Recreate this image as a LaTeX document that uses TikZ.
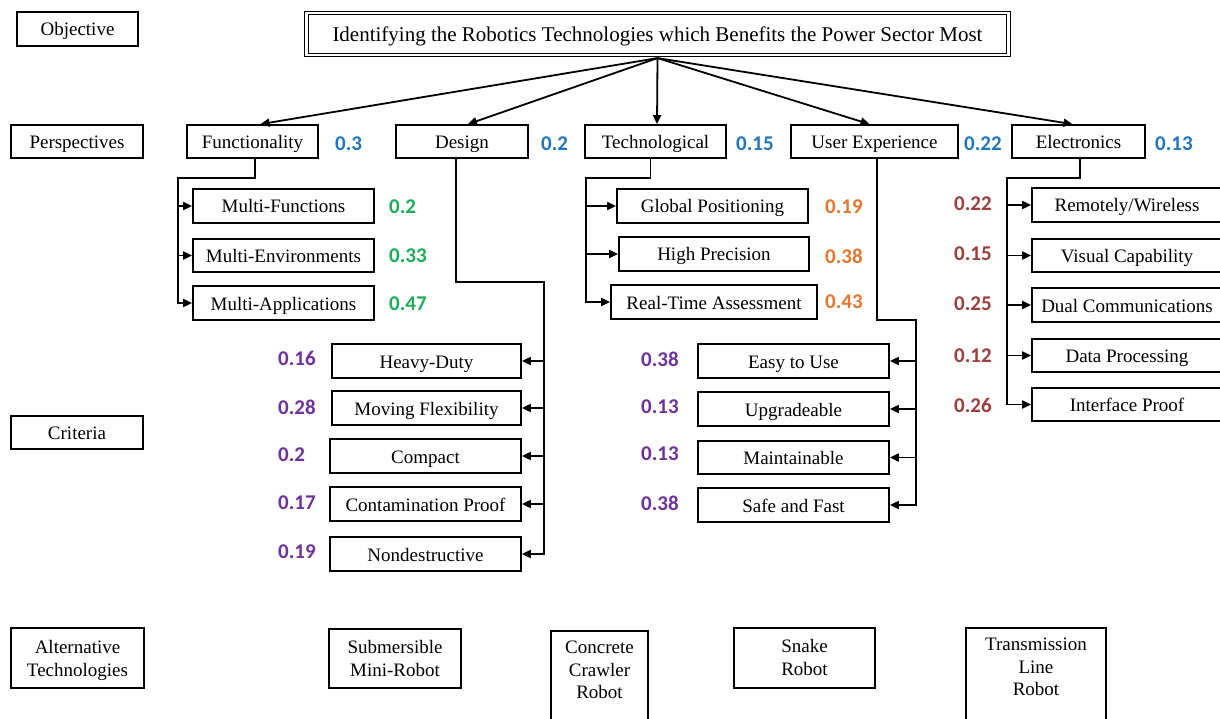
\documentclass[tikz,border=0pt]{standalone}
\usepackage{fontspec}
\setmainfont{Liberation Serif}
\newfontfamily\numfont{Carlito}
\usetikzlibrary{arrows.meta,calc}

\definecolor{wblue}{HTML}{1F77C4}
\definecolor{wgreen}{HTML}{1AAF54}
\definecolor{worange}{HTML}{E8762B}
\definecolor{wpurple}{HTML}{7030A0}
\definecolor{wred}{HTML}{A03C3C}

\tikzset{
  frame/.style={draw, line width=1.7pt, inner sep=0pt},
  box/.style={frame, text height=14pt, text depth=0pt,
    font=\fontsize{19}{22.5}\selectfont},
  plain/.style={inner sep=0pt, align=center, font=\fontsize{19}{22.5}\selectfont},
  conn/.style={line width=1.8pt},
  arr/.style={conn, -{Triangle[length=9pt,width=8pt]}},
  num/.style={anchor=west, inner sep=0pt, font=\numfont\bfseries\fontsize{21}{24}\selectfont},
}

\begin{document}
\begin{tikzpicture}[x=1pt,y=-1pt]
\useasboundingbox (0,0) rectangle (1220,719);

% level labels
\node[box, minimum width=121, minimum height=34] (lobj) at (77.5,29) {Objective};
\node[box, minimum width=132, minimum height=33] (lper) at (77,141.5) {Perspectives};
\node[box, minimum width=132, minimum height=33] (lcri) at (77,432.5) {Criteria};
\node[frame, minimum width=133, minimum height=60] (lalt) at (77.5,658) {};
\node[plain] (lalttext) at ($(lalt)+(0,2.5)$) {Alternative\\Technologies};

% objective
\node[frame, double, double distance=2.2pt, line width=1.2pt, minimum width=702, minimum height=42,
  text height=15pt, text depth=0pt, font=\fontsize{21}{25}\selectfont] (goal) at (657.5,34)
  {Identifying the Robotics Technologies which Benefits the Power Sector Most};
\coordinate (hub) at ($(goal.south)+(0,2.5)$);

% perspectives
\node[box, minimum width=131, minimum height=33] (func) at (252.5,141.5) {Functionality};
\node[box, minimum width=132, minimum height=33] (design) at (462,141.5) {Design};
\node[box, minimum width=141, minimum height=33] (tech) at (655.5,141.5) {Technological};
\node[box, minimum width=167, minimum height=33] (ux) at (874.5,141.5) {User Experience};
\node[box, minimum width=133, minimum height=33] (elec) at (1078.5,141.5) {Electronics};

\node[num, text=wblue] (wfunc) at (335,144) {0.3};
\node[num, text=wblue] (wdesign) at (541,144) {0.2};
\node[num, text=wblue] (wtech) at (736,144) {0.15};
\node[num, text=wblue] (wux) at (964,144) {0.22};
\node[num, text=wblue] (welec) at (1155,144) {0.13};

\draw[arr] (hub) -- ([xshift=8pt]func.north);
\draw[arr] (hub) -- ([xshift=6pt]design.north);
\draw[arr] (hub) -- ([xshift=1.5pt]tech.north);
\draw[arr] (hub) -- ([xshift=-5pt]ux.north);
\draw[arr] (hub) -- ([xshift=-6pt]elec.north);

% functionality criteria
\node[box, minimum width=181, minimum height=34] (mf) at (283.5,206) {Multi-Functions};
\node[box, minimum width=181, minimum height=33] (me) at (283.5,255.5) {Multi-Environments};
\node[box, minimum width=181, minimum height=34] (ma) at (283.5,303) {Multi-Applications};
\node[num, text=wgreen] (wmf) at (389,207) {0.2};
\node[num, text=wgreen] (wme) at (389,256) {0.33};
\node[num, text=wgreen] (wma) at (389,304) {0.47};
\coordinate (fbus) at (178,178);
\draw[arr] ([xshift=2.5pt]func.south) |- (fbus) |- (ma.west);
\foreach \n in {mf,me} \draw[arr] (fbus |- \n.west) -- (\n.west);

% design criteria
\node[box, minimum width=189, minimum height=34] (hd) at (426.5,361) {Heavy-Duty};
\node[box, minimum width=189, minimum height=34] (mfx) at (426.5,408) {Moving Flexibility};
\node[box, minimum width=191, minimum height=34] (cp) at (425.5,456) {Compact};
\node[box, minimum width=191, minimum height=34] (cpf) at (425.5,504) {Contamination Proof};
\node[box, minimum width=191, minimum height=34] (nd) at (425.5,554) {Nondestructive};
\node[num, text=wpurple] (whd) at (278,358) {0.16};
\node[num, text=wpurple] (wmfx) at (278,407) {0.28};
\node[num, text=wpurple] (wcp) at (278,455) {0.2};
\node[num, text=wpurple] (wcpf) at (278,503) {0.17};
\node[num, text=wpurple] (wnd) at (278,552) {0.19};
\coordinate (dbus) at (544,282);
\draw[arr] ([xshift=-6pt]design.south) |- (dbus) |- (nd.east);
\foreach \n in {hd,mfx,cp,cpf} \draw[arr] (dbus |- \n.east) -- (\n.east);

% technological criteria
\node[box, minimum width=191, minimum height=34] (gp) at (712.5,206) {Global Positioning};
\node[box, minimum width=190, minimum height=34] (hp) at (714,254) {High Precision};
\node[box, minimum width=206, minimum height=34] (rta) at (714,302) {Real-Time Assessment};
\node[num, text=worange] (wgp) at (825,207) {0.19};
\node[num, text=worange] (whp) at (825,256) {0.38};
\node[num, text=worange] (wrta) at (825,302) {0.43};
\coordinate (tbus) at (586,178);
\draw[arr] ([xshift=-5pt]tech.south) |- (tbus) |- (rta.west);
\foreach \n in {gp,hp} \draw[arr] (tbus |- \n.west) -- (\n.west);

% user experience criteria
\node[box, minimum width=191, minimum height=34] (eu) at (793.5,361) {Easy to Use};
\node[box, minimum width=191, minimum height=34] (up) at (793.5,409) {Upgradeable};
\node[box, minimum width=191, minimum height=33] (mt) at (793.5,457.5) {Maintainable};
\node[box, minimum width=191, minimum height=34] (sf) at (793.5,505) {Safe and Fast};
\node[num, text=wpurple] (weu) at (641,359) {0.38};
\node[num, text=wpurple] (wup) at (641,407) {0.13};
\node[num, text=wpurple] (wmt) at (641,454) {0.13};
\node[num, text=wpurple] (wsf) at (641,503) {0.38};
\coordinate (ubus) at (916,320);
\draw[arr] ([xshift=2.5pt]ux.south) |- (ubus) |- (sf.east);
\foreach \n in {eu,up,mt} \draw[arr] (ubus |- \n.east) -- (\n.east);

% electronics criteria
\node[box, minimum width=190, minimum height=34] (rw) at (1127,205) {Remotely/Wireless};
\node[box, minimum width=190, minimum height=33] (vc) at (1127,255.5) {Visual Capability};
\node[box, minimum width=190, minimum height=34] (dc) at (1127,305) {Dual Communications};
\node[box, minimum width=190, minimum height=33] (dp) at (1127,355.5) {Data Processing};
\node[box, minimum width=190, minimum height=33] (ip) at (1127,404.5) {Interface Proof};
\node[num, text=wred] (wrw) at (954,204) {0.22};
\node[num, text=wred] (wvc) at (954,254) {0.15};
\node[num, text=wred] (wdc) at (954,304) {0.25};
\node[num, text=wred] (wdp) at (954,356) {0.12};
\node[num, text=wred] (wip) at (954,405) {0.26};
\coordinate (ebus) at (1007,178);
\draw[arr] ([xshift=1.5pt]elec.south) |- (ebus) |- (ip.west);
\foreach \n in {rw,vc,dc,dp} \draw[arr] (ebus |- \n.west) -- (\n.west);

% alternatives
\node[frame, minimum width=132, minimum height=59] (sub) at (395,658.5) {};
\node[plain] (subtext) at (sub) {Submersible\\Mini-Robot};
\node[frame, minimum width=97, minimum height=100, anchor=north] (ccr) at (599.5,630) {};
\node[plain] (ccrtext) at (599.5,670) {Concrete\\Crawler\\Robot};
\node[frame, minimum width=141, minimum height=60] (snake) at (804.5,658) {};
\node[plain] (snaketext) at ($(snake)+(0,-0.5)$) {Snake\\Robot};
\node[frame, minimum width=140, minimum height=100, anchor=north] (tlr) at (1036,627) {};
\node[plain] (tlrtext) at (1036,667) {Transmission\\Line\\Robot};
\end{tikzpicture}
\end{document}
